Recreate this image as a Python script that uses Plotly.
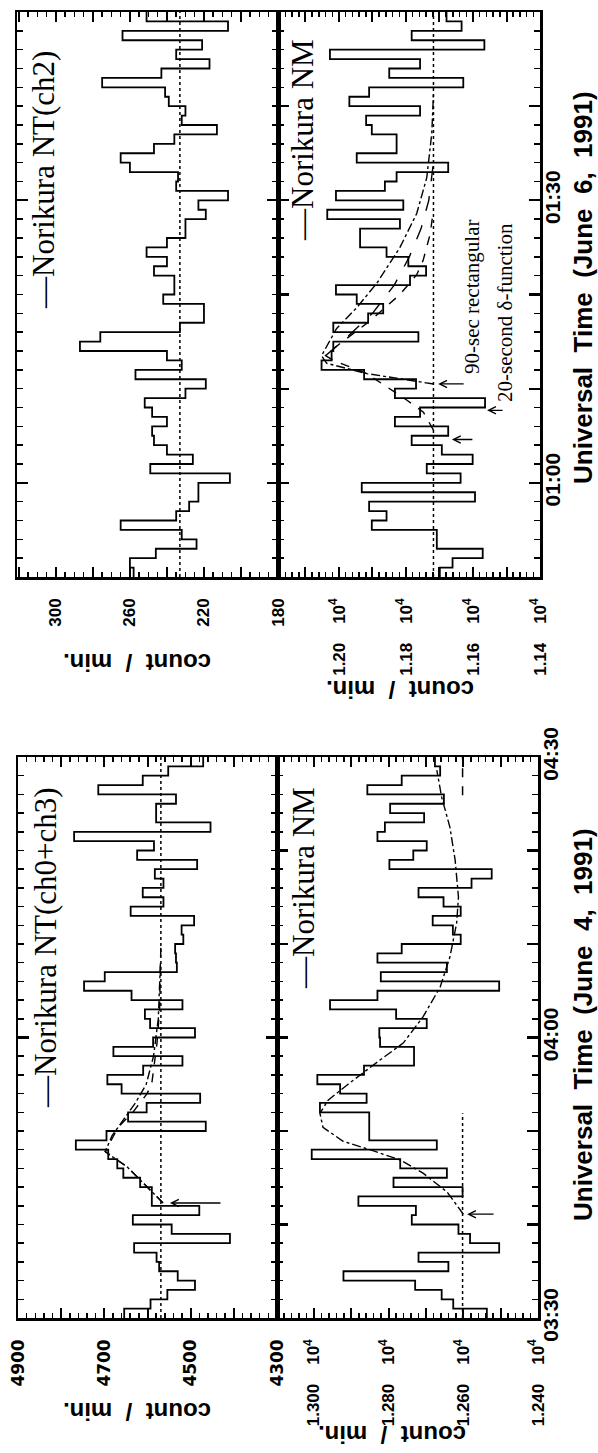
import plotly.graph_objects as go

W, H = 598, 1453

# ---------------- data ----------------
# 1-minute bins, minutes counted from the bottom of each panel
bin_edges_min = list(range(0, 61))

# June 6, 1991  (panel starts 00:50 UT)
nt_ch2_jun6 = [258, 260, 246, 224, 232, 265, 235, 228, 223, 223,
               206, 249, 226, 240, 247, 248, 240, 248, 252, 230,
               219, 257, 232, 240, 287, 276, 233, 220, 220, 242,
               236, 236, 247, 240, 251, 240, 230, 230, 219, 223,
               207, 235, 234, 260, 265, 247, 236, 213, 232, 230,
               239, 241, 275, 243, 217, 235, 221, 264, 207, 251]
nt_ch2_jun6_base = 233

nm_jun6 = [11699, 11661, 11571, 11708, 11708, 11902, 11858, 11910, 11594, 11932,
           11637, 11738, 11601, 11693, 11783, 11674, 11833, 11758, 11564, 11833,
           11770, 11925, 12052, 12022, 12017, 11763, 12017, 11913, 11868, 11947,
           12009, 11788, 11740, 11793, 11858, 11937, 11937, 11818, 12035, 11808,
           12009, 11863, 11828, 11674, 11947, 11828, 11828, 11902, 11919, 11758,
           11969, 11910, 11629, 11850, 11758, 12027, 11566, 11783, 11634, 11679]
nm_jun6_base = 11718

# model curves (June 6 NM)
rect90_t = [20.5, 21.6, 22.7, 23.5, 26.4, 28.6, 31.2, 35.0, 38.6, 42.4, 47.1, 51.3]
rect90_c = [11718, 11917, 12037, 12052, 12007, 11947, 11887, 11818, 11768, 11738, 11723, 11718]
delta20_t = [15.6, 17.5, 18.8, 20.0, 21.6, 23.0, 23.5, 24.8, 27.2, 30.0, 32.1, 33.6, 36.4, 39.0]
delta20_c = [11718, 11748, 11798, 11848, 11917, 12017, 12040, 11997, 11907, 11818, 11768, 11749, 11728, 11718]
mid_t = [23.5, 25.5, 28.0, 31.0, 34.0, 37.0, 40.0, 44.0]
mid_c = [12040, 11975, 11900, 11835, 11790, 11755, 11732, 11718]

# June 4, 1991  (panel starts 03:30 UT)
nt_ch03_jun4 = [4654, 4593, 4554, 4490, 4530, 4573, 4579, 4631, 4409, 4544,
                4634, 4480, 4590, 4590, 4617, 4656, 4670, 4691, 4766, 4695,
                4465, 4645, 4602, 4478, 4660, 4693, 4610, 4519, 4679, 4587,
                4490, 4594, 4606, 4519, 4637, 4747, 4699, 4532, 4534, 4536,
                4517, 4521, 4492, 4639, 4563, 4611, 4563, 4583, 4485, 4624,
                4585, 4770, 4454, 4580, 4580, 4534, 4714, 4611, 4552, 4471]
nt_ch03_jun4_base = 4569
nt_fit1_t = [12.3, 14.0, 16.2, 17.2, 17.8, 20.4, 22.0, 24.0, 25.1, 29.4, 33.0, 40.0]
nt_fit1_c = [4564, 4601, 4648, 4680, 4698, 4668, 4634, 4601, 4590, 4578, 4572, 4569]
nt_fit2_t = [12.3, 14.0, 16.2, 17.2, 17.8, 19.5, 21.0, 23.0, 25.0, 28.0, 32.0, 38.0]
nt_fit2_c = [4564, 4601, 4648, 4680, 4698, 4682, 4658, 4628, 4603, 4586, 4575, 4570]

nm_jun4 = [12537, 12627, 12658, 12729, 12921, 12640, 12720, 12504, 12582, 12613,
           12738, 12727, 12881, 12602, 12787, 12644, 12769, 13006, 12671, 12852,
           12852, 12852, 12984, 12859, 12930, 12991, 12866, 12732, 12732, 12823,
           12825, 12698, 12780, 12957, 12830, 12504, 12821, 12644, 12830, 12765,
           12607, 12628, 12682, 12607, 12653, 12720, 12578, 12524, 12798, 12734,
           12698, 12830, 12810, 12705, 12796, 12652, 12857, 12765, 12662, 12676]
nm_jun4_base = 12602
nm_base_seg1_t = [0, 21.9]
nm_base_seg2_t = [55.9, 60]
nm_fit_t = [11.1, 13.5, 15.5, 16.9, 18.0, 18.9, 20.4, 21.9, 23.3, 24.9, 27.6, 29.4,
            32.2, 35.4, 38.6, 42.2, 45.0, 49.0, 52.5, 55.7, 58.6]
nm_fit_c = [12600, 12644, 12708, 12769, 12850, 12922, 12976, 12984, 12962, 12912, 12823, 12761,
            12708, 12662, 12636, 12618, 12613, 12622, 12636, 12658, 12671]

# axis ticks / labels
time_ticks = [0, 10, 20, 30, 40, 50, 60]
jun6_time_labels = ['', '01:00', '', '', '01:30', '', '']
jun4_time_labels = ['03:30', '', '', '04:00', '', '', '04:30']

nt_jun6_ticks = [180, 200, 220, 240, 260, 280, 300, 320]
nt_jun6_labels = ['180', '', '220', '', '260', '', '300', '']
nm_jun6_ticks = [11400, 11500, 11600, 11700, 11800, 11900, 12000, 12100]
nm_jun6_labels = ['1.14', '', '1.16', '', '1.18', '', '1.20', '']
nt_jun4_ticks = [4300, 4400, 4500, 4600, 4700, 4800, 4900]
nt_jun4_labels = ['4300', '', '4500', '', '4700', '', '4900']
nm_jun4_ticks = [12400, 12500, 12600, 12700, 12800, 12900, 13000]
nm_jun4_labels = ['1.240', '', '1.260', '', '1.280', '', '1.300']

# ---------------- layout helpers ----------------
def fx(px):
    return px / W

def fy(py):
    return 1 - py / H

NB = '\u00a0'
def exp_label(s):
    return (s + NB * 4 + '10<sup>4</sup>') if s else ''

sans_b = dict(family='Liberation Sans, Arial, sans-serif', color='black', weight='bold')
serif = dict(family='Liberation Serif, Times New Roman, serif', color='black')

def count_axis(dom, rng, tv, tt, minor_dtick, anchor, fsize, family=None, standoff=12):
    f = dict(sans_b, size=fsize)
    if family:
        f['family'] = family
    return dict(domain=dom, range=rng, anchor=anchor, tickmode='array', tickvals=tv, ticktext=tt,
                tickangle=-90, ticks='inside', ticklen=10, tickwidth=2, tickcolor='black',
                showline=True, linewidth=2.5, linecolor='black', mirror='ticks',
                showgrid=False, zeroline=False, tickfont=f, side='bottom',
                ticklabelstandoff=standoff, automargin=False,
                minor=dict(tickmode='linear', tick0=rng[1], dtick=minor_dtick, ticks='inside',
                           ticklen=5, tickwidth=1.5, tickcolor='black', showgrid=False))

def time_axis(dom, anchor, tt, side, show):
    return dict(domain=dom, range=[0, 60], anchor=anchor, tickmode='array', tickvals=time_ticks,
                ticktext=tt, tickangle=-90, ticks='inside', ticklen=11, tickwidth=2.2,
                tickcolor='black', showline=True, linewidth=2.5, linecolor='black',
                mirror='ticks', showgrid=False, zeroline=False, side=side,
                showticklabels=show, tickfont=dict(sans_b, size=21), ticklabelstandoff=-8,
                automargin=False,
                minor=dict(tickmode='linear', tick0=0, dtick=2, ticks='inside', ticklen=6,
                           tickwidth=1.5, tickcolor='black', showgrid=False))

fig = go.Figure()

def hist(vals, xa, ya):
    fig.add_trace(go.Scatter(x=vals + [vals[-1]], y=bin_edges_min, mode='lines',
                             line=dict(color='black', width=1.8, shape='vh'),
                             xaxis=xa, yaxis=ya, showlegend=False, hoverinfo='skip'))

def line(xs, ys, xa, ya, dash, width=1.4):
    fig.add_trace(go.Scatter(x=xs, y=ys, mode='lines',
                             line=dict(color='black', width=width, dash=dash),
                             xaxis=xa, yaxis=ya, showlegend=False, hoverinfo='skip'))

# June 6 NT
hist(nt_ch2_jun6, 'x', 'y')
line([nt_ch2_jun6_base] * 2, [0, 60], 'x', 'y', 'dot', 1.5)
# June 6 NM
hist(nm_jun6, 'x2', 'y2')
line([nm_jun6_base] * 2, [0, 60], 'x2', 'y2', 'dot', 1.5)
line(rect90_c, rect90_t, 'x2', 'y2', 'dashdot')
line(delta20_c, delta20_t, 'x2', 'y2', 'dash')
line(mid_c, mid_t, 'x2', 'y2', 'longdash')
# June 4 NT
hist(nt_ch03_jun4, 'x3', 'y3')
line([nt_ch03_jun4_base] * 2, [0, 60], 'x3', 'y3', 'dot', 1.5)
line(nt_fit1_c, nt_fit1_t, 'x3', 'y3', 'dash')
line(nt_fit2_c, nt_fit2_t, 'x3', 'y3', 'dashdot')
# June 4 NM
hist(nm_jun4, 'x4', 'y4')
line([nm_jun4_base] * 2, nm_base_seg1_t, 'x4', 'y4', 'dot', 1.5)
line([nm_jun4_base] * 2, nm_base_seg2_t, 'x4', 'y4', 'dash', 1.5)
line(nm_fit_c, nm_fit_t, 'x4', 'y4', 'dashdot')

up_y = [fy(577), fy(12)]
lo_y = [fy(1318), fy(757)]

fig.update_layout(
    width=W, height=H, autosize=False,
    margin=dict(l=0, r=0, t=0, b=0, pad=0),
    paper_bgcolor='white', plot_bgcolor='white',
    xaxis=count_axis([fx(17), fx(278)], [321, 180], nt_jun6_ticks, nt_jun6_labels, 5, 'y', 17),
    yaxis=time_axis(up_y, 'x', jun6_time_labels, 'left', False),
    xaxis2=count_axis([fx(278), fx(540)], [12182, 11400], nm_jun6_ticks,
                      [exp_label(s) for s in nm_jun6_labels], 20, 'y2', 17),
    yaxis2=time_axis(up_y, 'x2', jun6_time_labels, 'right', True),
    xaxis3=count_axis([fx(18), fx(277)], [4900, 4300], nt_jun4_ticks, nt_jun4_labels, 20, 'y3', 17,
                      family='DejaVu Sans, sans-serif'),
    yaxis3=time_axis(lo_y, 'x3', jun4_time_labels, 'left', False),
    xaxis4=count_axis([fx(277), fx(538)], [13099, 12400], nm_jun4_ticks,
                      [exp_label(s) for s in nm_jun4_labels], 20, 'y4', 17),
    yaxis4=time_axis(lo_y, 'x4', jun4_time_labels, 'right', True),
)

anns = []
def text(px, py, s, font, angle):
    anns.append(dict(xref='paper', yref='paper', x=fx(px), y=fy(py), text=s, showarrow=False,
                     textangle=angle, xanchor='center', yanchor='middle', font=font))

leg_font = dict(serif, size=31)
text(43, 180, '\u2014Norikura NT(ch2)', leg_font, -90)
text(303, 140, '\u2014Norikura NM', leg_font, -90)
text(45, 948, '\u2014Norikura NT(ch0+ch3)', leg_font, -90)
text(303, 888, '\u2014Norikura NM', leg_font, -90)
text(472, 297, '90-sec rectangular', dict(serif, size=21), -90)
text(505, 313, '20-second \u03b4-function', dict(serif, size=21), -90)

cm = 'count' + NB * 2 + '/' + NB * 2 + 'min.'
cm_font = dict(sans_b, size=24)
text(137, 663, cm, cm_font, 180)
text(400, 690, cm, cm_font, 180)
text(137, 1412, cm, cm_font, 180)
text(392, 1435, cm, cm_font, 180)

ut_font = dict(sans_b, size=26)
sp = NB * 2
text(583, 288, 'Universal' + sp + 'Time' + sp + '(June' + sp + '6,' + sp + '1991)', ut_font, -90)
text(583, 1025, 'Universal' + sp + 'Time' + sp + '(June' + sp + '4,' + sp + '1991)', ut_font, -90)

def arrow(xa, ya, c, t, length):
    anns.append(dict(xref=xa, yref=ya, x=c, y=t, ax=length, ay=0, text='', showarrow=True,
                     arrowhead=5, arrowsize=1.1, arrowwidth=1.3, arrowcolor='black'))

arrow('x2', 'y2', 11704, 20.5, 27)
arrow('x2', 'y2', 11558, 17.7, 17)
arrow('x2', 'y2', 11663, 14.6, 22)
arrow('x3', 'y3', 4548, 12.3, 52)
arrow('x4', 'y4', 12590, 11.1, 28)

fig.update_layout(annotations=anns)
fig.write_html('out.html',
               config={'displayModeBar': False, 'staticPlot': True},
               post_script="document.body.style.margin='0';document.body.style.overflow='hidden';")
